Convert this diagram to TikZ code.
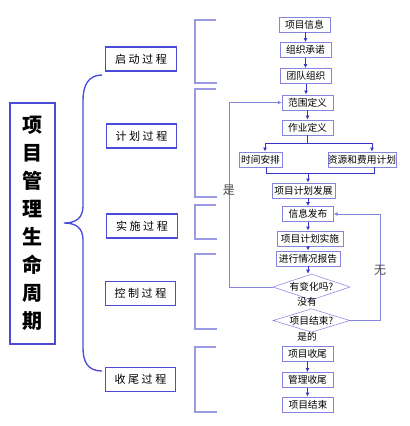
\documentclass[tikz,border=0pt]{standalone}
\usepackage{fontspec}
\newfontfamily\cjk{Noto Sans CJK SC}
\usetikzlibrary{arrows.meta,shapes.geometric}
\definecolor{kek}{HTML}{4B4BD8}
\definecolor{halvany}{HTML}{8585E0}
\definecolor{zarojel}{HTML}{9A9AE6}
\definecolor{nyilszin}{HTML}{3535CC}
\tikzset{
  lepes/.style={draw=halvany,fill=white,minimum width=38pt,minimum height=11.5pt,inner sep=0pt,font=\cjk\fontsize{7.3}{8}\selectfont},
  romb/.style={diamond,aspect=3,draw=halvany,inner sep=0pt,minimum width=57.75pt,font=\cjk\fontsize{7.3}{8}\selectfont},
  fazis/.style={draw=kek,line width=0.9pt,minimum width=53pt,minimum height=18pt,inner sep=0pt,font=\cjk\fontsize{8.3}{9}\selectfont},
  felirat/.style={font=\cjk\fontsize{7.3}{8}\selectfont,inner sep=0pt},
  nyil/.style={draw=nyilszin,line width=0.6pt,-{Latex[length=3pt,width=3pt]}},
  vonal/.style={draw=nyilszin,line width=0.6pt},
  hurok/.style={draw=halvany,line width=0.7pt},
  zar/.style={draw=zarojel,line width=0.9pt},
}
\begin{document}
\begin{tikzpicture}[x=0.75pt,y=-0.75pt]
  \useasboundingbox (0,0) rectangle (410,426);
  % cim es kapcsos zarojel
  \node[draw=kek,line width=1.5pt,minimum width=33.75pt,minimum height=180.75pt,inner sep=0pt,align=center,
    font=\cjk\bfseries\fontsize{15}{21}\selectfont] (cim) at (32.5,223.5)
    {项\\目\\管\\理\\生\\命\\周\\期};
  \draw[kek,line width=1pt] (102,75) .. controls (88,75) and (83,86) .. (83,100) -- (83,206)
    .. controls (83,218) and (76,223) .. (64,223) .. controls (76,223) and (83,228) .. (83,240)
    -- (83,348) .. controls (83,362) and (88,371) .. (102,371);
  % fazisok
  \node[fazis] (indit) at (141,59) {启 动 过 程};
  \node[fazis] (terv) at (141.5,136) {计 划 过 程};
  \node[fazis] (vegre) at (142,226) {实 施 过 程};
  \node[fazis] (ellen) at (140.5,293.5) {控 制 过 程};
  \node[fazis] (zaras) at (140.5,379.5) {收 尾 过 程};
  \foreach \a/\b in {20/83,89/197,205/239,254/329,347/412}
    \draw[zar] (216,\a) -- (195,\a) -- (195,\b) -- (217,\b);
  % folyamat
  \node[lepes] (pi) at (304.5,24.5) {项目信息};
  \node[lepes] (zo) at (305.5,50) {组织承诺};
  \node[lepes] (tc) at (306,76) {团队组织};
  \node[lepes] (fw) at (307.5,102.5) {范围定义};
  \node[lepes] (zy) at (307.5,127.5) {作业定义};
  \node[lepes,minimum width=32.25pt] (sj) at (260.5,159.5) {时间安排};
  \node[lepes,minimum width=51pt] (zj) at (362,159.5) {资源和费用计划};
  \node[lepes,minimum width=47.25pt] (fz) at (303.5,190.5) {项目计划发展};
  \node[lepes] (xx) at (308,214) {信息发布};
  \node[lepes,minimum width=49.5pt] (ss) at (310,238.5) {项目计划实施};
  \node[lepes,minimum width=48pt] (bg) at (308,258.5) {进行情况报告};
  \node[romb,minimum height=19.5pt] (bh) at (311.5,287) {有变化吗?};
  \node[felirat] (my) at (307,302) {没有};
  \node[romb,minimum height=17.25pt] (js) at (311.5,320.5) {项目结束?};
  \node[felirat] (sd) at (307,337) {是的};
  \node[lepes] (sw) at (307.5,353.5) {项目收尾};
  \node[lepes] (gl) at (307.5,380) {管理收尾};
  \node[lepes] (jx) at (308,404.5) {项目结束};
  \draw[nyil] (pi.south -| zo) -- (zo.north);
  \draw[nyil] (zo.south) -- (zo.south |- tc.north);
  \draw[nyil] (tc.south) -- (tc.south |- fw.north);
  \draw[nyil] (fw.south) -- (fw.south |- zy.north);
  \coordinate (ag1) at (265,143);
  \coordinate (ag2) at (372,143);
  \draw[vonal] (zy.south) -- (zy.south |- ag1);
  \draw[vonal] (ag1) -- (ag2);
  \draw[nyil] (ag1) -- (ag1 |- sj.north);
  \draw[nyil] (ag2) -- (ag2 |- zj.north);
  \coordinate (gy1) at (266,173);
  \coordinate (gy2) at (374,173);
  \coordinate (gy) at (308,173);
  \draw[vonal] (gy1 |- sj.south) -- (gy1) -- (gy2) -- (gy2 |- zj.south);
  \draw[nyil] (gy) -- (gy |- fz.north);
  \draw[nyil] (fz.south -| xx) -- (xx.north);
  \draw[nyil] (xx.south) -- (xx.south |- ss.north);
  \draw[nyil] (ss.south -| bg) -- (bg.north);
  \draw[nyil] (bg.south) -- (bg.south |- bh.north);
  \draw[nyil] (sw.south) -- (gl.north);
  \draw[nyil] (gl.south) -- (gl.south |- jx.north);
  % visszacsatolas
  \coordinate (hb) at (229,190);
  \coordinate (hj) at (380,270);
  \draw[hurok] (bh.west) -| (hb);
  \draw[hurok,-{Latex[length=3pt,width=3pt]}] (hb) |- (fw.west);
  \draw[hurok] (js.east) -| (hj);
  \draw[hurok,-{Latex[length=3pt,width=3pt]}] (hj) |- (xx.east);
  \node[font=\cjk\fontsize{9}{10}\selectfont,text=black!70] at (hb) {是};
  \node[font=\cjk\fontsize{9}{10}\selectfont,text=black!70] at (hj) {无};
\end{tikzpicture}
\end{document}
